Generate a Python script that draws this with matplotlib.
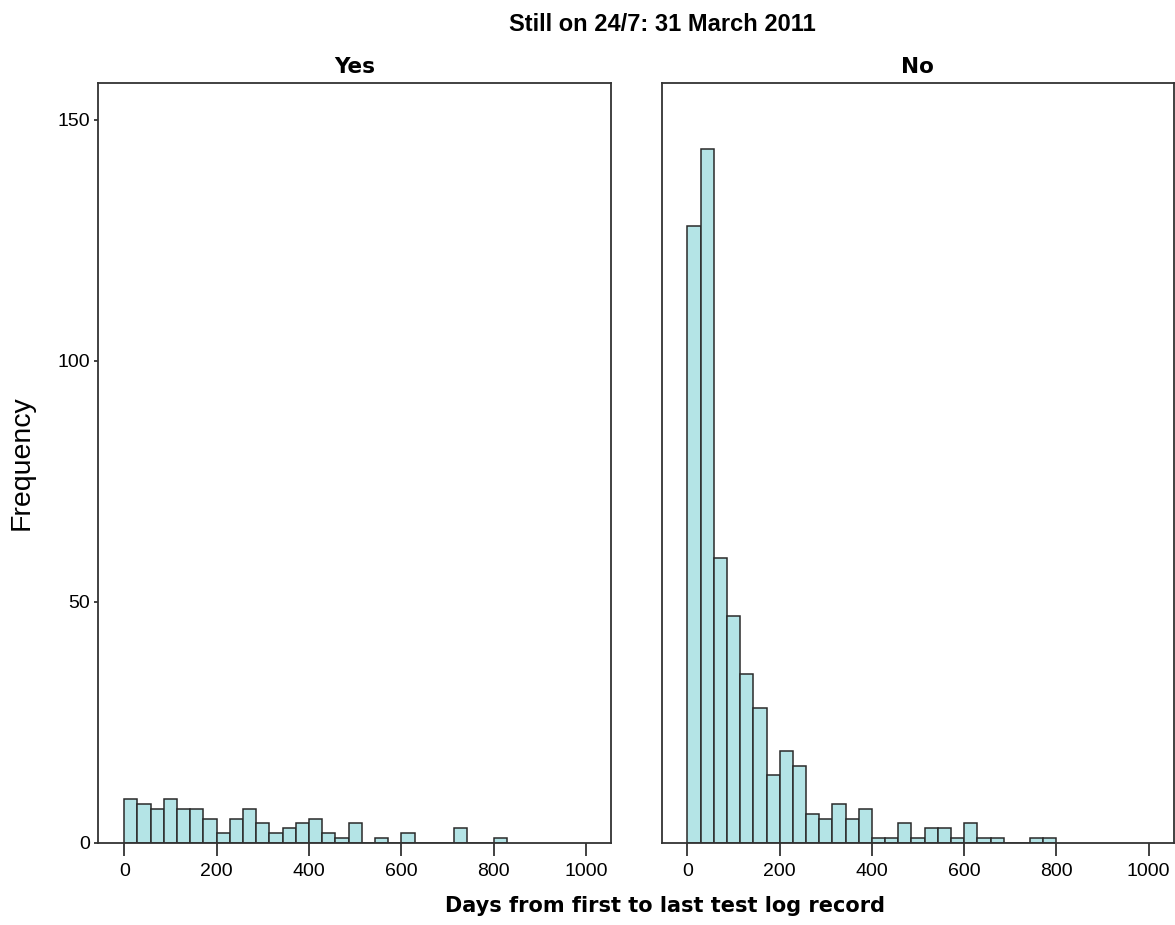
import numpy as np
from matplotlib import pyplot as plt

# Histogram counts per bin (bin width = 200/7 days, starting at 0)
bin_width = 200 / 7
yes_counts = [9, 8, 7, 9, 7, 7, 5, 2, 5, 7, 4, 2, 3, 4, 5, 2, 1, 4, 0, 1,
              0, 2, 0, 0, 0, 3, 0, 0, 1]
no_counts = [128, 144, 59, 47, 35, 28, 14, 19, 16, 6, 5, 8, 5, 7, 1, 1, 4, 1,
             3, 3, 1, 4, 1, 1, 0, 0, 1, 1]
panel_titles = ["Yes", "No"]
x_ticks = [0, 200, 400, 600, 800, 1000]
y_ticks = [0, 50, 100, 150]

bar_color = "#b4e4e6"
edge_color = "#2a2a2a"
spine_color = "#333333"

fig = plt.figure(figsize=(11.75, 9.25), dpi=100)
ax_yes = fig.add_axes([0.0837, 0.089, 0.4363, 0.8213])
ax_no = fig.add_axes([0.5631, 0.089, 0.4357, 0.8213])

for ax, counts, title in zip([ax_yes, ax_no], [yes_counts, no_counts], panel_titles):
    edges = np.arange(len(counts) + 1) * bin_width
    ax.hist(edges[:-1], bins=edges, weights=counts, color=bar_color,
            edgecolor=edge_color, linewidth=1.1)
    ax.set_xlim(-56, 1054)
    ax.set_ylim(0, 157.6)
    ax.set_xticks(x_ticks)
    ax.tick_params(axis="x", direction="out", length=9.5, width=1.3,
                   labelsize=14, color=spine_color, pad=5)
    for spine in ax.spines.values():
        spine.set_color(spine_color)
        spine.set_linewidth(1.3)
    for lbl in ax.get_xticklabels():
        lbl.set_fontfamily("Liberation Sans")
    ax.set_title(title, fontsize=15.5, fontweight="bold", family="DejaVu Sans", pad=7)

ax_yes.set_yticks(y_ticks)
ax_yes.tick_params(axis="y", direction="out", length=3, width=1.3,
                   labelsize=14, color=spine_color, pad=3)
for lbl in ax_yes.get_yticklabels():
    lbl.set_fontfamily("Liberation Sans")
ax_no.set_yticks([])

fig.text(0.0187, 0.4995, "Frequency", rotation=90, ha="center", va="center",
         fontsize=20.5, family="Liberation Sans")
fig.text(0.564, 0.974, "Still on 24/7: 31 March 2011", ha="center", va="center",
         fontsize=17, fontweight="bold", family="Liberation Sans")
fig.text(0.566, 0.0205, "Days from first to last test log record", ha="center", va="center",
         fontsize=15, fontweight="bold", family="DejaVu Sans")

plt.savefig("out.png", dpi=100)
